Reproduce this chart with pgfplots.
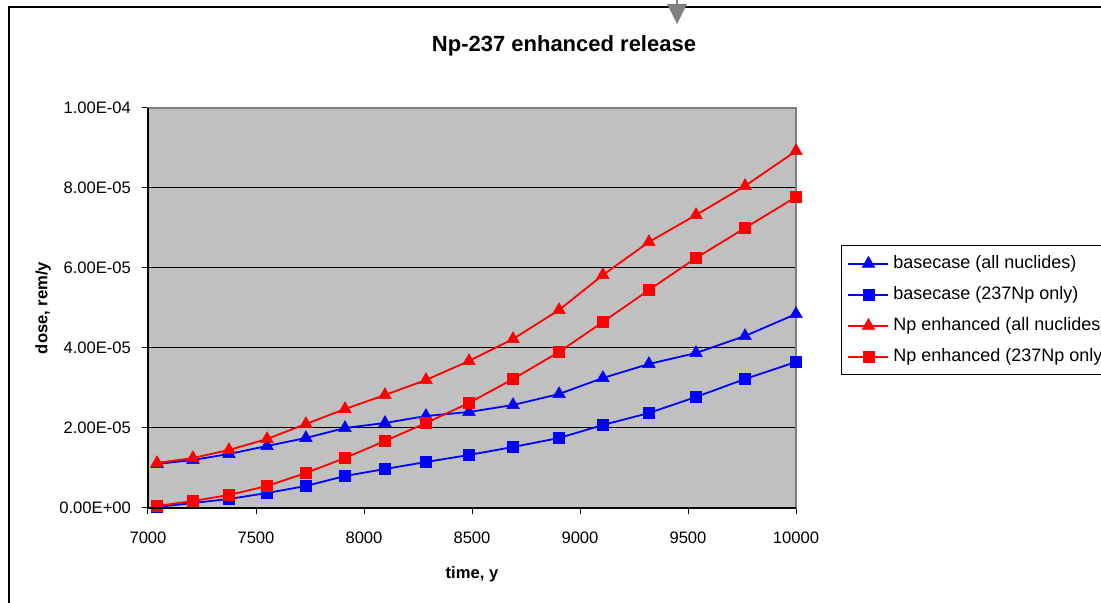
\documentclass[border=0pt]{standalone}
\usepackage{fontspec}
\setmainfont{Liberation Sans}
\usepackage{pgfplots}
\pgfplotsset{compat=1.18}
\definecolor{plotbg}{HTML}{C0C0C0}
\definecolor{framegray}{HTML}{808080}
\begin{document}
\begin{tikzpicture}
\useasboundingbox (-74pt,-47.5pt) rectangle (476.5pt,254pt);
% outer chart frame and the marker at top
\draw[black,line width=0.6pt] (-69.5pt,-120pt) -- (-69.5pt,250.5pt) -- (520pt,250.5pt);
\fill[framegray] (259.5pt,252pt) -- (269.5pt,252pt) -- (264.5pt,242pt) -- cycle;
\draw[framegray,line width=1pt] (264.5pt,252pt) -- (264.5pt,256pt);
\begin{axis}[
  name=ax,
  at={(0pt,0pt)}, anchor=south west, scale only axis,
  width=324pt, height=200pt,
  xmin=7000, xmax=10000, ymin=0, ymax=1e-4,
  axis background/.style={fill=plotbg},
  axis line style={framegray, line width=1.3pt},
  xtick={7000,7500,8000,8500,9000,9500,10000},
  xticklabels={7000,7500,8000,8500,9000,9500,10000},
  ytick={0,2e-5,4e-5,6e-5,8e-5,1e-4},
  yticklabels={0.00E+00,2.00E-05,4.00E-05,6.00E-05,8.00E-05,1.00E-04},
  scaled ticks=false,
  tick pos=left, tick align=outside, major tick length=3pt,
  tick style={black, line width=0.5pt},
  ymajorgrids, major grid style={black, line width=0.5pt},
  ticklabel style={font=\fontsize{8.3}{10}\selectfont},
  xticklabel style={yshift=-5.5pt},
  yticklabel style={xshift=-2pt},
  title={Np-237 enhanced release},
  title style={at={(axis description cs:0.642,1.125)}, anchor=center, font=\bfseries\fontsize{11}{13}\selectfont},
  xlabel={time, y},
  xlabel style={at={(axis description cs:0.5,-0.165)}, anchor=center, font=\bfseries\fontsize{8.3}{10}\selectfont},
  ylabel={dose, rem/y},
  ylabel style={at={(axis description cs:-0.162,0.5)}, anchor=center, rotate=0, font=\bfseries\fontsize{8.3}{10}\selectfont},
  legend style={at={(axis description cs:1.0694,0.6575)}, anchor=north west, draw=black, fill=white,
    font=\fontsize{9}{11}\selectfont, row sep=3.5pt, inner sep=3pt, line width=0.6pt},
  legend cell align=left,
  legend image code/.code={\draw[mark repeat=2,mark phase=2,#1] plot coordinates {(0pt,0pt)(10pt,0pt)(20pt,0pt)};},
  every axis plot/.append style={line width=0.9pt},
]
\addplot[blue, mark=triangle*, mark size=3.6pt, mark options={line width=0.3pt}] coordinates {
(7042,11e-6)(7208,12e-6)(7375,13.5e-6)(7551,15.5e-6)(7731,17.5e-6)(7912,20e-6)(8097,21.25e-6)(8287,23e-6)
(8486,24e-6)(8690,25.75e-6)(8903,28.5e-6)(9106,32.5e-6)(9319,36e-6)(9537,38.75e-6)(9764,43e-6)(10000,48.5e-6)};
\addlegendentry{basecase (all nuclides)}
\addplot[blue, mark=square*, mark size=2.7pt, mark options={line width=0.3pt}] coordinates {
(7042,0.25e-6)(7208,1.25e-6)(7375,2.25e-6)(7551,3.75e-6)(7731,5.5e-6)(7912,8e-6)(8097,9.75e-6)(8287,11.5e-6)
(8486,13.25e-6)(8690,15.25e-6)(8903,17.5e-6)(9106,20.75e-6)(9319,23.75e-6)(9537,27.75e-6)(9764,32.25e-6)(10000,36.5e-6)};
\addlegendentry{basecase (237Np only)}
\addplot[red, mark=triangle*, mark size=3.6pt, mark options={line width=0.3pt}] coordinates {
(7042,11.25e-6)(7208,12.5e-6)(7375,14.5e-6)(7551,17.25e-6)(7731,21e-6)(7912,24.75e-6)(8097,28.25e-6)(8287,32e-6)
(8486,36.75e-6)(8690,42.25e-6)(8903,49.5e-6)(9106,58.25e-6)(9319,66.5e-6)(9537,73.25e-6)(9764,80.5e-6)(10000,89.25e-6)};
\addlegendentry{Np enhanced (all nuclides)}
\addplot[red, mark=square*, mark size=2.7pt, mark options={line width=0.3pt}] coordinates {
(7042,0.5e-6)(7208,1.75e-6)(7375,3.25e-6)(7551,5.5e-6)(7731,8.75e-6)(7912,12.5e-6)(8097,16.75e-6)(8287,21.25e-6)
(8486,26.25e-6)(8690,32.25e-6)(8903,39e-6)(9106,46.5e-6)(9319,54.5e-6)(9537,62.5e-6)(9764,70e-6)(10000,77.75e-6)};
\addlegendentry{Np enhanced (237Np only)}
\end{axis}
\draw[black,line width=0.6pt] (ax.north west) -- (ax.south west) -- (ax.south east);
\end{tikzpicture}
\end{document}
